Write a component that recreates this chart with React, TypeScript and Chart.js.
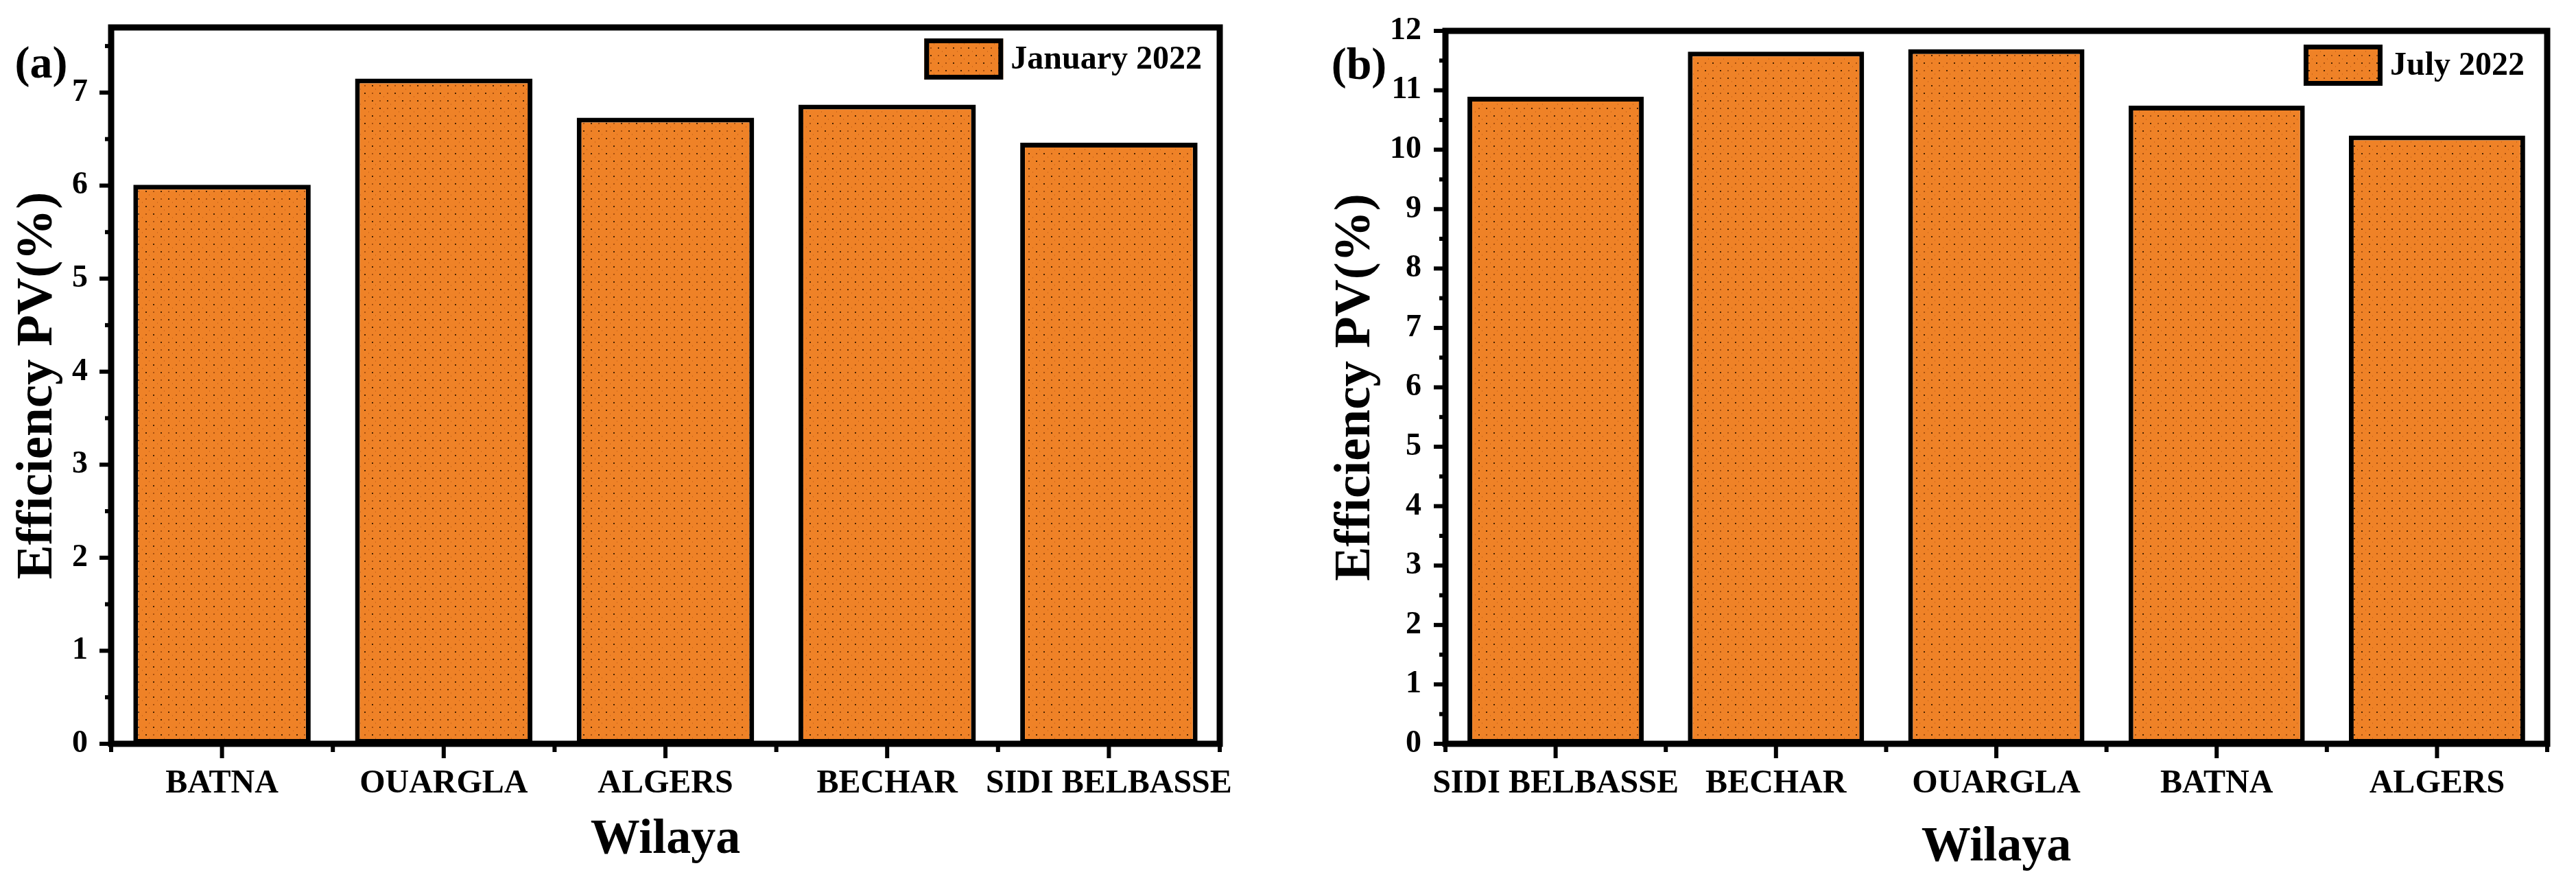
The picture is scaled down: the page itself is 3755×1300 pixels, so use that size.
import React, { useEffect, useRef } from "react";
import { Chart, registerables } from "chart.js";

Chart.register(...registerables);

// ---------- data ----------
const leftCategories = ["BATNA", "OUARGLA", "ALGERS", "BECHAR", "SIDI BELBASSE"];
const leftValues = [6.01, 7.15, 6.73, 6.87, 6.46];
const leftSeriesLabel = "January 2022";
const leftYMax = 7.7;
const leftPanelLabel = "(a)";

const rightCategories = ["SIDI BELBASSE", "BECHAR", "OUARGLA", "BATNA", "ALGERS"];
const rightValues = [10.89, 11.65, 11.69, 10.74, 10.24];
const rightSeriesLabel = "July 2022";
const rightYMax = 12;
const rightPanelLabel = "(b)";

const yAxisTitle = "Efficiency PV(%)";
const xAxisTitle = "Wilaya";

// ---------- style ----------
const FONT = '"Liberation Serif", "Times New Roman", serif';
const ORANGE = "#EF8227";

type Layout = {
  width: number;
  axisWidth: number;
  padTop: number;
  padRight: number;
  tickPad: number;
  yTitlePad: number;
  xTitlePadBottom: number;
  panelX: number;
  panelY: number;
  legendTop: number;
  legendGap: number;
};

const leftLayout: Layout = {
  width: 1877,
  axisWidth: 162,
  padTop: 40,
  padRight: 99,
  tickPad: 34,
  yTitlePad: 11,
  xTitlePadBottom: 32,
  panelX: 60,
  panelY: 96,
  legendTop: 16,
  legendGap: 26,
};

const rightLayout: Layout = {
  width: 1878,
  axisWidth: 230,
  padTop: 45,
  padRight: 42,
  tickPad: 35,
  yTitlePad: 55,
  xTitlePadBottom: 21,
  panelX: 104,
  panelY: 98,
  legendTop: 20,
  legendGap: 33,
};

function makePattern(): CanvasPattern | string {
  const tile = document.createElement("canvas");
  tile.width = 22;
  tile.height = 22;
  const t = tile.getContext("2d");
  if (!t) return ORANGE;
  t.fillStyle = ORANGE;
  t.fillRect(0, 0, 22, 22);
  t.fillStyle = "#4a2300";
  t.fillRect(3, 3, 2, 2);
  t.fillRect(14, 14, 2, 2);
  t.fillStyle = "#a8500f";
  t.fillRect(14, 3, 2, 2);
  t.fillRect(3, 14, 2, 2);
  t.fillStyle = "#d06a1c";
  t.fillRect(9, 8, 1, 2);
  t.fillRect(19, 19, 1, 2);
  const p = t.createPattern(tile, "repeat");
  return p || ORANGE;
}

const framePlugin = {
  id: "originFrame",
  afterDraw(chart: any, _args: any, opts: any) {
    const { ctx, chartArea: ca } = chart;
    const x = chart.scales.x;
    const y = chart.scales.y;
    ctx.save();
    ctx.fillStyle = "#000";
    // y ticks (major + minor), outward
    for (let v = 0; v <= y.max + 1e-9; v += 0.5) {
      const py = y.getPixelForValue(v);
      const major = Math.abs(v - Math.round(v)) < 1e-6;
      const len = major ? 17 : 9;
      ctx.fillRect(ca.left - len, py - 3, len, 6);
    }
    // x ticks
    const n = chart.data.labels.length;
    for (let i = 0; i < n; i++) {
      const px = x.getPixelForValue(i);
      ctx.fillRect(px - 3, ca.bottom, 6, 21);
    }
    for (let i = 0; i <= n; i++) {
      const px = x.getPixelForValue(i - 0.5);
      ctx.fillRect(px - 3, ca.bottom, 6, 12);
    }
    // frame
    ctx.strokeStyle = "#000";
    ctx.lineWidth = 9;
    ctx.strokeRect(ca.left, ca.top, ca.right - ca.left, ca.bottom - ca.top);

    // legend
    const ds = chart.data.datasets[0];
    ctx.font = `bold 48px ${FONT}`;
    const tw = ctx.measureText(ds.label).width;
    const textX = ca.right - opts.legendGap - tw;
    const boxW = 115;
    const boxH = 60;
    const boxX = textX - 11 - boxW;
    const boxY = ca.top + opts.legendTop;
    ctx.fillStyle = ds.backgroundColor;
    ctx.fillRect(boxX, boxY, boxW, boxH);
    ctx.lineWidth = 7;
    ctx.strokeRect(boxX + 3.5, boxY + 3.5, boxW - 7, boxH - 7);
    ctx.fillStyle = "#000";
    ctx.textAlign = "left";
    ctx.textBaseline = "middle";
    ctx.fillText(ds.label, textX, boxY + boxH / 2 + 2);

    // panel label
    ctx.font = `bold 66px ${FONT}`;
    ctx.textAlign = "center";
    ctx.fillText(opts.panelLabel, opts.panelX, opts.panelY);
    ctx.restore();
  },
};

function buildConfig(
  categories: string[],
  values: number[],
  seriesLabel: string,
  yMax: number,
  panelLabel: string,
  L: Layout,
  fill: CanvasPattern | string
): any {
  return {
    type: "bar",
    data: {
      labels: categories,
      datasets: [
        {
          label: seriesLabel,
          data: values,
          backgroundColor: fill,
          borderColor: "#000",
          borderWidth: 7,
          borderSkipped: false,
          barPercentage: 0.8,
          categoryPercentage: 1.0,
        },
      ],
    },
    options: {
      responsive: false,
      animation: false,
      devicePixelRatio: 1,
      layout: { padding: { top: L.padTop, right: L.padRight, left: 0, bottom: 0 } },
      plugins: {
        legend: { display: false },
        tooltip: { enabled: false },
        originFrame: {
          panelLabel,
          panelX: L.panelX,
          panelY: L.panelY,
          legendTop: L.legendTop,
          legendGap: L.legendGap,
        },
      },
      scales: {
        x: {
          grid: { display: false, drawTicks: false },
          border: { display: false },
          ticks: {
            autoSkip: false,
            maxRotation: 0,
            minRotation: 0,
            padding: 30,
            color: "#000",
            font: { family: FONT, size: 48, weight: "bold" },
          },
          title: {
            display: true,
            text: xAxisTitle,
            color: "#000",
            font: { family: FONT, size: 72, weight: "bold" },
            padding: { top: 0, bottom: L.xTitlePadBottom },
          },
          afterFit: (s: any) => {
            s.height = 216;
            s.paddingLeft = 0;
            s.paddingRight = 0;
            s.paddingTop = 0;
            s.paddingBottom = 0;
          },
        },
        y: {
          min: 0,
          max: yMax,
          grid: { display: false, drawTicks: false },
          border: { display: false },
          ticks: {
            stepSize: 1,
            includeBounds: false,
            padding: L.tickPad,
            color: "#000",
            font: { family: FONT, size: 46, weight: "bold" },
          },
          title: {
            display: true,
            text: yAxisTitle,
            color: "#000",
            font: { family: FONT, size: 75, weight: "bold" },
            padding: { top: L.yTitlePad, bottom: 0 },
          },
          afterFit: (s: any) => {
            s.width = L.axisWidth;
            s.paddingLeft = 0;
            s.paddingRight = 0;
            s.paddingTop = 0;
            s.paddingBottom = 0;
          },
        },
      },
    },
    plugins: [framePlugin],
  };
}

function Panel(props: {
  categories: string[];
  values: number[];
  seriesLabel: string;
  yMax: number;
  panelLabel: string;
  layout: Layout;
}) {
  const ref = useRef<HTMLCanvasElement | null>(null);
  useEffect(() => {
    if (!ref.current) return;
    const fill = makePattern();
    const chart = new Chart(
      ref.current,
      buildConfig(
        props.categories,
        props.values,
        props.seriesLabel,
        props.yMax,
        props.panelLabel,
        props.layout,
        fill
      )
    );
    return () => chart.destroy();
  }, []);
  return (
    <canvas
      ref={ref}
      width={props.layout.width}
      height={1300}
      style={{ width: props.layout.width, height: 1300, display: "block" }}
    />
  );
}

export default function App() {
  return (
    <div
      style={{
        position: "absolute",
        left: 0,
        top: 0,
        width: 3755,
        height: 1300,
        display: "flex",
        background: "#fff",
      }}
    >
      <Panel
        categories={leftCategories}
        values={leftValues}
        seriesLabel={leftSeriesLabel}
        yMax={leftYMax}
        panelLabel={leftPanelLabel}
        layout={leftLayout}
      />
      <Panel
        categories={rightCategories}
        values={rightValues}
        seriesLabel={rightSeriesLabel}
        yMax={rightYMax}
        panelLabel={rightPanelLabel}
        layout={rightLayout}
      />
    </div>
  );
}
